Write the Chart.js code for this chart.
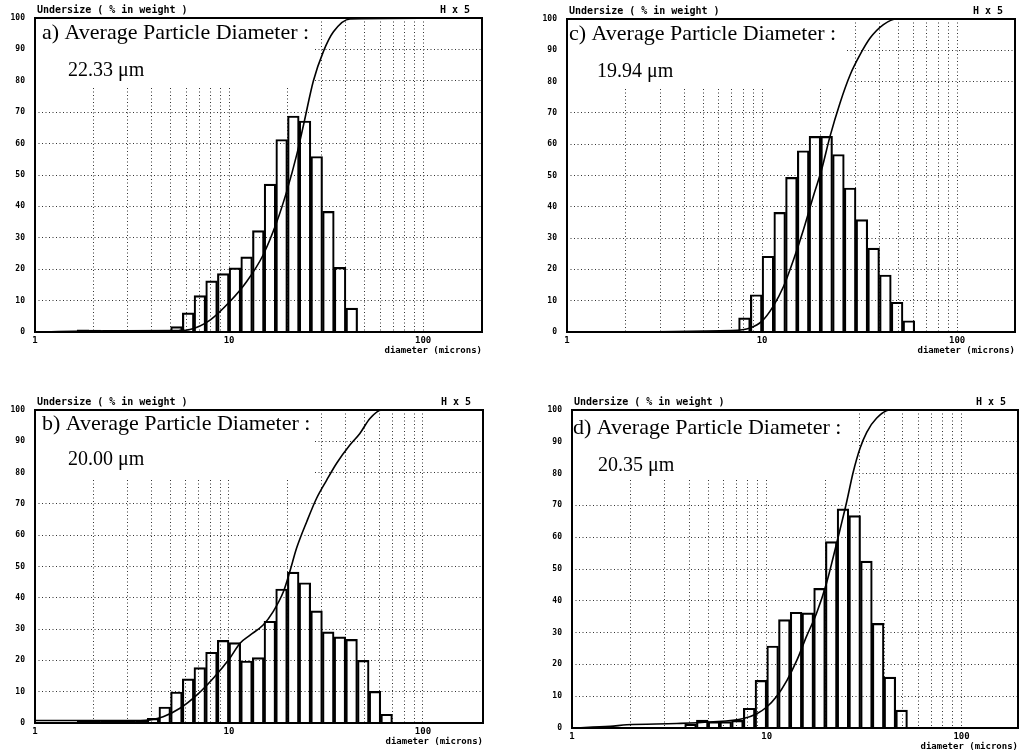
<!DOCTYPE html>
<html>
<head>
<meta charset="utf-8">
<title>Particle size distributions</title>
<script src="https://cdn.jsdelivr.net/npm/chart.js@4.4.1/dist/chart.umd.min.js"></script>
<style>
    html, body { margin: 0; padding: 0; background: #fff; }
    body { width: 1021px; height: 751px; position: relative; overflow: hidden; }
    canvas { position: absolute; }
</style>
</head>
<body>
<canvas id="panel-a"></canvas>
<canvas id="panel-b"></canvas>
<canvas id="panel-c"></canvas>
<canvas id="panel-d"></canvas>
<script>
(function () {
    "use strict";

    // channel edges (microns), 5 channels per octave
    var binEdges = [1.088, 1.25, 1.436, 1.649, 1.895, 2.176, 2.5, 2.872, 3.299, 3.789,
        4.353, 5.0, 5.743, 6.598, 7.579, 8.706, 10, 11.487, 13.195, 15.157,
        17.411, 20, 22.974, 26.39, 30.314, 34.822, 40, 45.948, 52.78, 60.629, 69.644];

    var gridValues = [1, 2, 3, 4, 5, 6, 7, 8, 9, 10, 20, 30, 40, 50, 60, 70, 80, 90, 100];
    var labelValues = [1, 10, 100];

    // frequency per channel (% in weight)
    var barsA = [0, 0, 0, 0.7, 0.6, 0, 0, 0, 0, 0, 0, 1.7, 6.1, 11.6, 16.3, 18.6, 20.4, 23.9, 32.3, 47.1,
        61.3, 68.8, 67.2, 55.9, 38.4, 20.6, 7.6, 0, 0, 0];
    var barsB = [0, 0, 0, 0.6, 0.6, 0.6, 0.6, 0.6, 0.6, 1.5, 5.1, 9.9, 14.1, 17.7, 22.6, 26.4, 25.7, 19.8, 20.9, 32.5,
        42.8, 48.2, 44.8, 35.8, 29.1, 27.5, 26.7, 20.0, 10.1, 2.8];
    var barsC = [0, 0, 0, 0, 0, 0, 0, 0, 0, 0, 0, 0, 0, 0.5, 4.5, 11.9, 24.2, 38.2, 49.4, 57.9,
        62.5, 62.5, 56.7, 46.0, 35.9, 26.8, 18.2, 9.5, 3.6, 0];
    var barsD = [0, 0, 0, 0, 0, 0, 0, 0, 0, 1.2, 2.5, 2.0, 2.0, 2.4, 6.2, 15.0, 25.8, 34.1, 36.4, 36.2,
        43.9, 58.6, 68.9, 66.8, 52.5, 32.9, 16.0, 5.6, 0, 0];

    // cumulative undersize curves
    var curveXA = [1, 2.3, 5.5, 6.29, 7.98, 10.1, 12.3, 15.0, 17.6, 19.8, 22.3, 24.2, 27.2, 30.6, 34.5, 42, 201];
    var curveYA = [0, 0.4, 0.5, 0.8, 3.8, 9.7, 16, 24.6, 35, 44.7, 56.4, 66, 80, 89.3, 95.6, 99.7, 100];
    var curveXB = [1, 3.5, 3.91, 4.58, 5.59, 6.82, 8.3, 10.1, 11.4, 12.8, 15.0, 16.9, 19.1, 20.6, 22.3, 25.2,
        28.3, 31.9, 35.9, 42.0, 47.3, 53.3, 61.3, 204];
    var curveYB = [0.8, 0.8, 1, 2, 4.7, 8.9, 14.3, 20.7, 25.5, 28, 31.3, 35.6, 42, 48.4, 55.8, 64.4,
        71.8, 77.6, 83, 88.8, 92.5, 97.3, 100, 100];
    var curveXC = [1, 7.0, 8.68, 9.96, 11.4, 12.9, 14.5, 16.3, 18.3, 20.2, 22.3, 25.1, 28.3, 31.8, 35.8, 41.9, 49.1, 198];
    var curveYC = [0, 0.5, 1.3, 3.4, 8.2, 14.6, 23.1, 32.7, 43.3, 51.9, 62.5, 73.2, 82.2, 88.6, 93.9, 98.2, 100, 100];
    var curveXD = [1, 1.57, 1.91, 3.45, 5.12, 7.59, 8.89, 10.0, 11.2, 12.7, 14.3, 16.0, 18.0, 20.3, 22.0, 23.8,
        25.7, 27.8, 30.1, 32.6, 36.6, 42.9, 195];
    var curveYD = [0, 0.5, 1, 1.4, 1.9, 3, 4.5, 6.6, 9.8, 15, 21.4, 28.8, 36, 45.7, 54, 62.5,
        71, 80.5, 87.9, 93, 97.4, 100, 100];

    var panelLetters = ["a", "b", "c", "d"];
    var diameters = ["22.33", "20.00", "19.94", "20.35"];

    var panels = [
        { id: "panel-a", n: 0, bars: barsA, cx: curveXA, cy: curveYA, left: 35, top: 18, right: 482, bottom: 332, xMax: 201, titleAt: [7, 21], valueAt: [33, 58] },
        { id: "panel-b", n: 1, bars: barsB, cx: curveXB, cy: curveYB, left: 35, top: 410, right: 483, bottom: 723, xMax: 204, titleAt: [7, 20], valueAt: [33, 55] },
        { id: "panel-c", n: 2, bars: barsC, cx: curveXC, cy: curveYC, left: 567, top: 19, right: 1015, bottom: 332, xMax: 198, titleAt: [2, 21], valueAt: [30, 58] },
        { id: "panel-d", n: 3, bars: barsD, cx: curveXD, cy: curveYD, left: 572, top: 410, right: 1018, bottom: 728, xMax: 195, titleAt: [1, 24], valueAt: [26, 61] }
    ];

    var MONO = "'DejaVu Sans Mono', monospace";
    var SERIF = "'Liberation Serif', 'Times New Roman', serif";
    var AXIS_W = 35;
    var PAD_TOP = 18;
    var PAD_RIGHT = 8;
    var X_AXIS_H = 24;
    var PAD_BOTTOM = 6;

    var panelText = {
        id: "panelText",
        beforeDatasetsDraw: function (chart, args, opts) {
            var a = chart.chartArea;
            var ctx = chart.ctx;
            ctx.save();
            ctx.fillStyle = "#fff";
            ctx.fillRect(a.left + 1, a.top + 1, 278, 67);
            ctx.fillStyle = "#000";
            ctx.textBaseline = "alphabetic";
            ctx.textAlign = "left";
            ctx.font = "22px " + SERIF;
            ctx.fillText(opts.title, a.left + opts.titleAt[0], a.top + opts.titleAt[1]);
            ctx.font = "20px " + SERIF;
            ctx.fillText(opts.value, a.left + opts.valueAt[0], a.top + opts.valueAt[1]);
            ctx.restore();
        },
        afterDatasetsDraw: function (chart) {
            var a = chart.chartArea;
            var ctx = chart.ctx;
            ctx.save();
            ctx.strokeStyle = "#000";
            ctx.lineWidth = 2;
            ctx.strokeRect(a.left, a.top, a.right - a.left, a.bottom - a.top);
            ctx.fillStyle = "#000";
            ctx.font = "bold 10px " + MONO;
            ctx.textBaseline = "middle";
            ctx.textAlign = "left";
            ctx.fillText("Undersize ( % in weight )", a.left + 2, a.top - 8);
            ctx.textAlign = "right";
            ctx.fillText("H x 5", a.right - 12, a.top - 8);
            ctx.restore();
        }
    };

    // one bar per channel, centred (geometrically) in its channel
    function buildBars(values) {
        return values.map(function (v, i) {
            return { x: Math.sqrt(binEdges[i] * binEdges[i + 1]), y: v };
        });
    }

    function buildCurve(xs, ys) {
        return xs.map(function (x, i) {
            return { x: x, y: ys[i] };
        });
    }

    function createPanel(p) {
        var canvas = document.getElementById(p.id);
        var w = (p.right - p.left) + AXIS_W + PAD_RIGHT;
        var h = (p.bottom - p.top) + PAD_TOP + X_AXIS_H + PAD_BOTTOM;
        canvas.width = w;
        canvas.height = h;
        canvas.style.width = w + "px";
        canvas.style.height = h + "px";
        canvas.style.left = (p.left - AXIS_W) + "px";
        canvas.style.top = (p.top - PAD_TOP) + "px";

        return new Chart(canvas.getContext("2d"), {
            type: "line",
            data: {
                datasets: [
                    {
                        type: "line",
                        xAxisID: "x",
                        data: buildCurve(p.cx, p.cy),
                        borderColor: "#000",
                        borderWidth: 1.6,
                        pointRadius: 0,
                        fill: false,
                        cubicInterpolationMode: "monotone",
                        order: 0
                    },
                    {
                        type: "bar",
                        xAxisID: "xb",
                        data: buildBars(p.bars),
                        backgroundColor: "rgba(0,0,0,0)",
                        borderColor: "#000",
                        borderWidth: 1.5,
                        grouped: false,
                        barPercentage: 1,
                        categoryPercentage: 1,
                        order: 1
                    }
                ]
            },
            options: {
                responsive: false,
                animation: false,
                events: [],
                layout: {
                    padding: { left: 0, top: PAD_TOP, right: PAD_RIGHT, bottom: PAD_BOTTOM }
                },
                plugins: {
                    legend: { display: false },
                    tooltip: { enabled: false },
                    panelText: {
                        title: panelLetters[p.n] + ") Average Particle Diameter :",
                        value: diameters[p.n] + " \u03bcm",
                        titleAt: p.titleAt,
                        valueAt: p.valueAt
                    }
                },
                scales: {
                    x: {
                        type: "logarithmic",
                        min: 1,
                        max: p.xMax,
                        offset: false,
                        afterBuildTicks: function (scale) {
                            scale.ticks = gridValues.map(function (v) {
                                return { value: v };
                            });
                        },
                        afterFit: function (scale) {
                            scale.height = X_AXIS_H;
                        },
                        grid: { color: "#333", lineWidth: 1, drawTicks: false, offset: false },
                        border: { display: false, dash: [1, 2.5] },
                        ticks: {
                            autoSkip: false,
                            maxRotation: 0,
                            padding: 3,
                            color: "#000",
                            font: { family: MONO, size: 9, weight: "bold" },
                            callback: function (v) {
                                return labelValues.indexOf(v) >= 0 ? String(v) : "";
                            }
                        },
                        title: {
                            display: true,
                            text: "diameter (microns)",
                            align: "end",
                            padding: 0,
                            color: "#000",
                            font: { family: MONO, size: 9, weight: "bold" }
                        }
                    },
                    xb: {
                        type: "logarithmic",
                        display: false,
                        min: 1,
                        max: p.xMax,
                        offset: false,
                        grid: { offset: false },
                        afterBuildTicks: function (scale) {
                            scale.ticks = [{ value: scale.min }, { value: scale.max }];
                        }
                    },
                    y: {
                        min: 0,
                        max: 100,
                        afterFit: function (scale) {
                            scale.width = AXIS_W;
                        },
                        grid: { color: "#333", lineWidth: 1, drawTicks: false },
                        border: { display: false, dash: [1, 2.5] },
                        ticks: {
                            stepSize: 10,
                            padding: 10,
                            color: "#000",
                            font: { family: MONO, size: 8, weight: "bold" }
                        }
                    }
                }
            },
            plugins: [panelText]
        });
    }

    panels.forEach(createPanel);
})();
</script>
</body>
</html>
